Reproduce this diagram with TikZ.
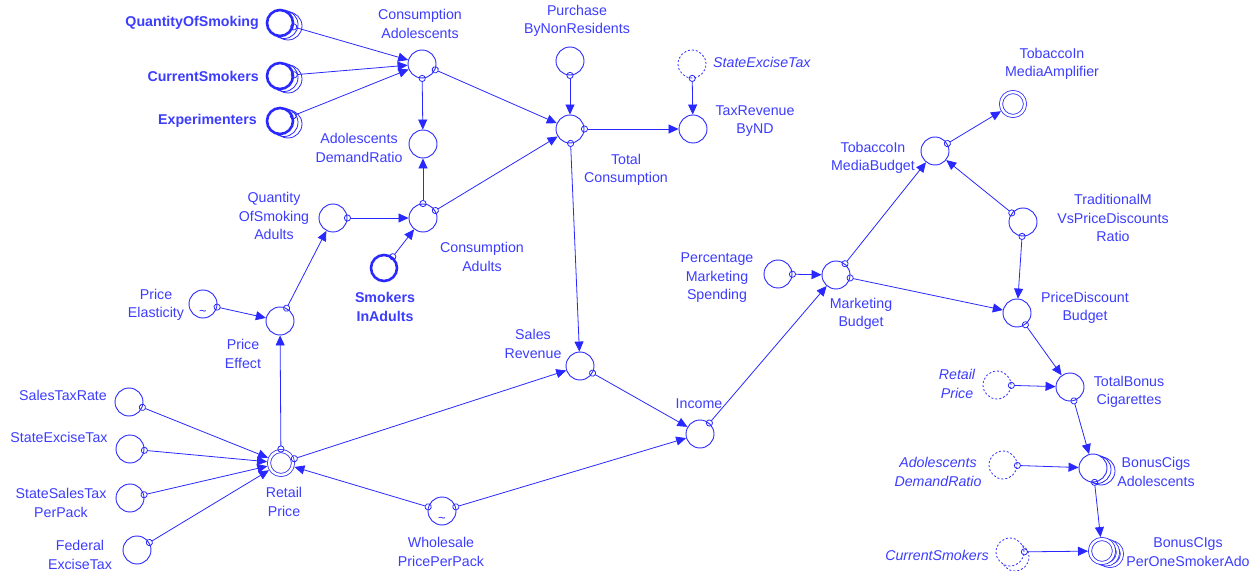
\documentclass[tikz,border=0pt]{standalone}
\usepackage{fontspec}
\setmainfont{Liberation Sans}
\usetikzlibrary{arrows.meta}
\definecolor{cblue}{RGB}{40,40,255}
\definecolor{tblue}{RGB}{60,60,255}
\newcommand\labfont{\fontsize{14.2bp}{18.5bp}\selectfont}
\begin{document}
\begin{tikzpicture}[x=1bp,y=-1bp,
  var/.style={circle,draw=cblue,fill=white,line width=0.9bp,minimum size=28bp,inner sep=0pt},
  boldvar/.style={var,line width=2.6bp,minimum size=26bp},
  ghost/.style={var,dash pattern=on 2bp off 2bp,line width=0.8bp},
  dblvar/.style={var,double=white,double distance=2.4bp,line width=0.8bp,minimum size=24bp,outer sep=2bp},
  stackc/.style={circle,draw=cblue,line width=0.8bp,minimum size=28bp,inner sep=0pt},
  stackg/.style={stackc,dash pattern=on 2bp off 2bp},
  stackd/.style={stackc,double=white,double distance=2.4bp,minimum size=24bp},
  lab/.style={text=tblue,align=center,font=\labfont,inner sep=0pt},
  boldlab/.style={lab,font=\labfont\bfseries},
  itlab/.style={lab,font=\labfont\itshape},
  tildemark/.style={text=cblue,font=\fontsize{13bp}{13bp}\selectfont,inner sep=0pt},
  link/.style={draw=cblue,line width=0.8bp,{Circle[open,length=7bp,width=7bp]}-{Triangle[length=10bp,width=9bp]},shorten <=-3.5bp},
]
\path[use as bounding box] (0,0) rectangle (1259,571);

% stacked (array) circles behind
\node[stackc] (qosS2) at (288,26) {};
\node[stackc] (qosS1) at (284,24.5) {};
\node[stackc] (csS2) at (288,79) {};
\node[stackc] (csS1) at (284,77.5) {};
\node[stackc] (expS2) at (288,124) {};
\node[stackc] (expS1) at (284,122.5) {};
\node[stackc] (bcaS2) at (1101,471) {};
\node[stackc] (bcaS1) at (1097,469.5) {};
\node[stackd] (bcpS2) at (1110,554) {};
\node[stackd] (bcpS1) at (1106,552.5) {};
\node[stackg] (csGS) at (1015,557) {};

% variables
\node[boldvar] (qos) at (280,23) {};
\node[boldvar] (cs) at (280,76) {};
\node[boldvar] (exp) at (280,121) {};
\node[var] (ca) at (422,64) {};
\node[var] (adr) at (423,144) {};
\node[var] (pbn) at (570,61) {};
\node[var] (tc) at (570,129) {};
\node[ghost] (setTop) at (692,64) {};
\node[var] (trnd) at (693,129) {};
\node[var] (qosa) at (333,218) {};
\node[var] (cad) at (423,218) {};
\node[boldvar] (sia) at (384,268) {};
\node[var] (pel) at (203,304) {};
\node[var] (pef) at (280,321) {};
\node[dblvar] (rp) at (281,463) {};
\node[var] (str) at (129,402) {};
\node[var] (set) at (130,449) {};
\node[var] (sst) at (130,498) {};
\node[var] (fet) at (137,550) {};
\node[var] (wpp) at (442,511) {};
\node[var] (sr) at (580,366) {};
\node[var] (inc) at (700,434) {};
\node[var] (pms) at (778,274) {};
\node[var] (mb) at (836,275) {};
\node[var] (tmb) at (935,151) {};
\node[dblvar] (tma) at (1013,104) {};
\node[var] (trad) at (1023,222) {};
\node[var] (pdb) at (1017,313) {};
\node[ghost] (rpG) at (997,385) {};
\node[var] (tbc) at (1070,387) {};
\node[ghost] (adrG) at (1003,465) {};
\node[var] (bca) at (1093,468) {};
\node[ghost] (csG) at (1010,552) {};
\node[dblvar] (bcp) at (1102,551) {};

\node[tildemark] (pelT) at (203,313) {\textasciitilde};
\node[tildemark] (wppT) at (442,520) {\textasciitilde};

% labels
\node[boldlab,anchor=east] (qosL) at (259,23) {QuantityOfSmoking};
\node[boldlab,anchor=east] (csL) at (259,76) {CurrentSmokers};
\node[boldlab,anchor=east] (expL) at (257,121) {Experimenters};
\node[lab] (caL) at (420,24) {Consumption\\Adolescents};
\node[lab] (adrL) at (359,148) {Adolescents\\DemandRatio};
\node[lab] (pbnL) at (577,21) {Purchase\\ByNonResidents};
\node[lab] (tcL) at (626,170) {Total\\Consumption};
\node[itlab,anchor=west] (setTopL) at (713,62) {StateExciseTax};
\node[lab] (trndL) at (755,121) {TaxRevenue\\ByND};
\node[lab] (qosaL) at (274,216) {Quantity\\OfSmoking\\Adults};
\node[lab] (cadL) at (482,257) {Consumption\\Adults};
\node[boldlab] (siaL) at (385,307) {Smokers\\InAdults};
\node[lab] (pelL) at (156,305) {Price\\Elasticity};
\node[lab] (pefL) at (243,354) {Price\\Effect};
\node[lab] (rpL) at (284,502) {Retail\\Price};
\node[lab] (strL) at (63,395) {SalesTaxRate};
\node[lab] (setL) at (59,437) {StateExciseTax};
\node[lab] (sstL) at (61,503) {StateSalesTax\\PerPack};
\node[lab] (fetL) at (80,555) {Federal\\ExciseTax};
\node[lab] (wppL) at (441,552) {Wholesale\\PricePerPack};
\node[lab] (srL) at (533,344) {Sales\\Revenue};
\node[lab] (incL) at (699,404) {Income};
\node[lab] (pmsL) at (717,278) {Percentage\\Marketing\\Spending};
\node[lab] (mbL) at (861,314) {Marketing\\Budget};
\node[lab] (tmbL) at (873,158) {TobaccoIn\\MediaBudget};
\node[lab] (tmaL) at (1052,64) {TobaccoIn\\MediaAmplifier};
\node[lab] (tradL) at (1113,218) {TraditionalM\\VsPriceDiscounts\\Ratio};
\node[lab] (pdbL) at (1085,308) {PriceDiscount\\Budget};
\node[itlab] (rpGL) at (957,384) {Retail\\Price};
\node[lab] (tbcL) at (1129,392) {TotalBonus\\Cigarettes};
\node[itlab] (adrGL) at (938,472) {Adolescents\\DemandRatio};
\node[lab] (bcaL) at (1156,472) {BonusCigs\\Adolescents};
\node[itlab] (csGL) at (937,555) {CurrentSmokers};
\node[lab] (bcpL) at (1188,552) {BonusCIgs\\PerOneSmokerAdo};

% links
\draw[link] (qos) -- (ca);
\draw[link] (cs) -- (ca);
\draw[link] (exp) -- (ca);
\draw[link] (ca) -- (adr);
\draw[link] (ca) -- (tc);
\draw[link] (cad) -- (adr);
\draw[link] (cad) -- (tc);
\draw[link] (qosa) -- (cad);
\draw[link] (sia) -- (cad);
\draw[link] (pbn) -- (tc);
\draw[link] (tc) -- (trnd);
\draw[link] (setTop) -- (trnd);
\draw[link] (tc) -- (sr);
\draw[link] (pel) -- (pef);
\draw[link] (pef) -- (qosa);
\draw[link] (rp) -- (pef);
\draw[link] (str) -- (rp);
\draw[link] (set) -- (rp);
\draw[link] (sst) -- (rp);
\draw[link] (fet) -- (rp);
\draw[link] (wpp) -- (rp);
\draw[link] (rp) -- (sr);
\draw[link] (wpp) -- (inc);
\draw[link] (sr) -- (inc);
\draw[link] (inc) -- (mb);
\draw[link] (pms) -- (mb);
\draw[link] (mb) -- (tmb);
\draw[link] (mb) -- (pdb);
\draw[link] (tmb) -- (tma);
\draw[link] (trad) -- (tmb);
\draw[link] (trad) -- (pdb);
\draw[link] (pdb) -- (tbc);
\draw[link] (rpG) -- (tbc);
\draw[link] (tbc) -- (bca);
\draw[link] (adrG) -- (bca);
\draw[link] (bca) -- (bcp);
\draw[link] (csG) -- (bcp);
\end{tikzpicture}
\end{document}
